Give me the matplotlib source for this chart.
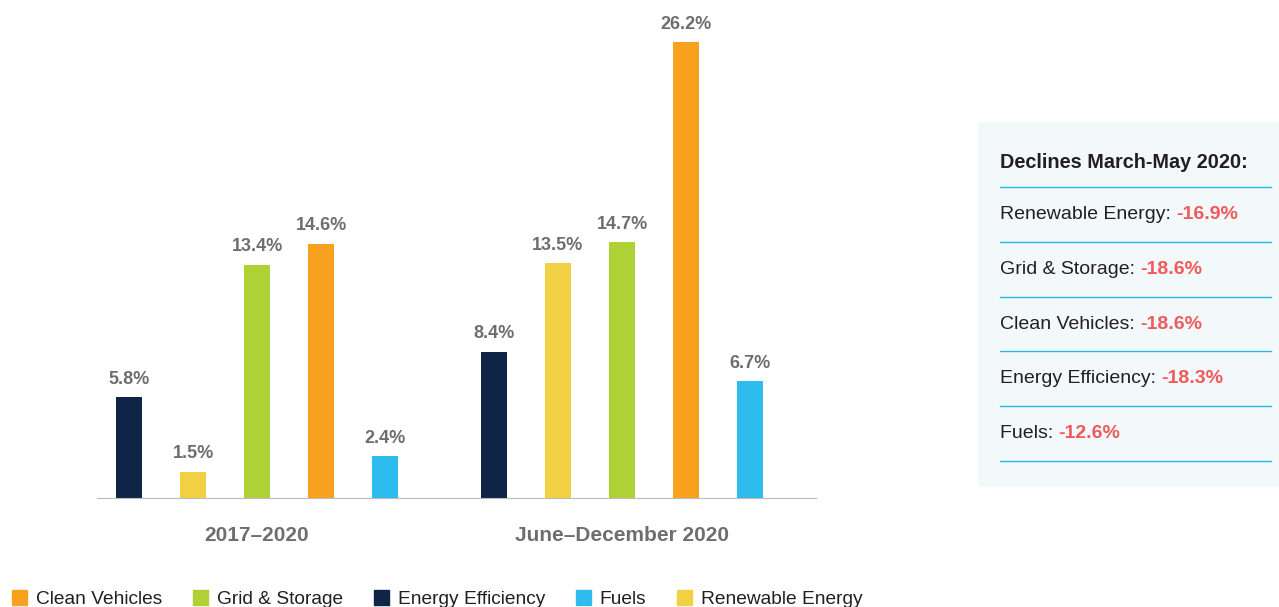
import matplotlib.pyplot as plt
from matplotlib.patches import Patch
import numpy as np

plt.rcParams['font.family'] = ['Liberation Sans', 'DejaVu Sans']

periods = ['2017\u20132020', 'June\u2013December 2020']
sectors = ['Energy Efficiency', 'Renewable Energy', 'Grid & Storage', 'Clean Vehicles', 'Fuels']
growth_2017_2020 = [5.8, 1.5, 13.4, 14.6, 2.4]
growth_jun_dec_2020 = [8.4, 13.5, 14.7, 26.2, 6.7]
colors = {'Energy Efficiency': '#0f2447', 'Renewable Energy': '#f2d043',
          'Grid & Storage': '#aed136', 'Clean Vehicles': '#f7a11f', 'Fuels': '#2ebcee'}
legend_order = ['Clean Vehicles', 'Grid & Storage', 'Energy Efficiency', 'Fuels', 'Renewable Energy']

decline_labels = ['Renewable Energy:', 'Grid & Storage:', 'Clean Vehicles:', 'Energy Efficiency:', 'Fuels:']
decline_values = ['-16.9%', '-18.6%', '-18.6%', '-18.3%', '-12.6%']

grey = '#6d6e71'
fig = plt.figure(figsize=(12.79, 6.07), dpi=100)
ax = fig.add_axes([97/1279, 109/607, 719/1279, 487/607])

offsets = [0, 5.7]
for off, vals in zip(offsets, [growth_2017_2020, growth_jun_dec_2020]):
    x = off + np.arange(len(sectors))
    ax.bar(x, vals, width=0.41, color=[colors[s] for s in sectors])
    for xi, v in zip(x, vals):
        ax.text(xi, v + 0.55, f'{v}%', ha='center', va='bottom', fontsize=13,
                fontweight='bold', color=grey)

ax.set_xlim(-0.5, 10.73)
ax.set_ylim(0, 28)
ax.set_xticks([off + 2 for off in offsets])
ax.set_xticklabels(periods, fontsize=15, fontweight='bold', color=grey)
ax.tick_params(axis='x', length=0, pad=20)
ax.set_yticks([])
for s in ['top', 'right', 'left']:
    ax.spines[s].set_visible(False)
ax.spines['bottom'].set_color('#bbbbbb')

# legend
handles = [Patch(color=colors[s]) for s in legend_order]
fig.legend(handles, legend_order, loc='lower left', bbox_to_anchor=(-0.004, -0.03),
           ncol=5, frameon=False, fontsize=13.8, handlelength=0.8, handleheight=0.8,
           handletextpad=0.45, columnspacing=1.6, labelcolor='#231f20')

# side box
bax = fig.add_axes([978/1279, 120/607, 301/1279, 365/607])
bax.set_xlim(978, 1279)
bax.set_ylim(487, 122)
bax.axis('off')
bax.add_patch(plt.Rectangle((978, 122), 301, 365, color='#f3f8fb', zorder=0))
bax.text(1000, 163, 'Declines March-May 2020:', fontsize=14.3, fontweight='bold',
         color='#231f20', va='center')
lines_y = [187, 242, 297, 351, 406, 461]
for y in lines_y:
    bax.plot([1000, 1271], [y, y], color='#29b6e8', lw=1)
for i, (lab, val) in enumerate(zip(decline_labels, decline_values)):
    y = (lines_y[i] + lines_y[i + 1]) / 2
    t = bax.text(1000, y, lab + ' ', fontsize=14, color='#231f20', va='center')
    fig.canvas.draw()
    bb = t.get_window_extent()
    xend = bax.transData.inverted().transform((bb.x1, bb.y0))[0]
    bax.text(xend, y, val, fontsize=14, fontweight='bold', color='#f05a5a', va='center')

fig.savefig('out.png', dpi=100)
